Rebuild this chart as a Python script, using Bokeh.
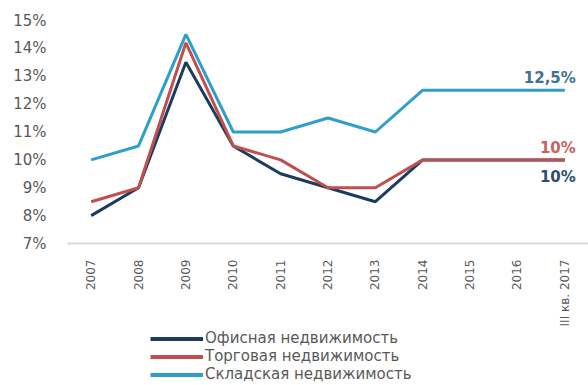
import math
from bokeh.plotting import figure
from bokeh.layouts import column
from bokeh.models import Legend, LegendItem, NumeralTickFormatter, FixedTicker, Range1d
from bokeh.core.properties import value
from bokeh.embed import file_html
from bokeh.resources import INLINE

years = ["2007", "2008", "2009", "2010", "2011", "2012", "2013", "2014", "2015", "2016", "III кв. 2017"]
office = [8.0, 9.0, 13.5, 10.5, 9.5, 9.0, 8.5, 10.0, 10.0, 10.0, 10.0]
retail = [8.5, 9.0, 14.2, 10.5, 10.0, 9.0, 9.0, 10.0, 10.0, 10.0, 10.0]
warehouse = [10.0, 10.5, 14.5, 11.0, 11.0, 11.5, 11.0, 12.5, 12.5, 12.5, 12.5]
names = ["Офисная недвижимость", "Торговая недвижимость", "Складская недвижимость"]
y_ticks = [7, 8, 9, 10, 11, 12, 13, 14, 15]
end_labels = ["12,5%", "10%", "10%"]
end_values = [12.5, 10.0, 10.0]

FONT = "DejaVu Sans"
colors = ["#1C3B60", "#C0504D", "#2F9FCA"]
label_colors = ["#3F7191", "#C8625E", "#2F4E6E"]
label_offsets = [-12, -12, 17]

p = figure(frame_width=521, frame_height=223, x_range=years, y_range=(7, 15),
           output_backend="svg", toolbar_location=None,
           min_border_left=67, min_border_right=0, min_border_top=20,
           min_border_bottom=86)
p.outline_line_color = None
p.xgrid.grid_line_color = None
p.ygrid.grid_line_color = None
p.x_range.range_padding = 0

for vals, c in zip([office, retail, warehouse], colors):
    p.line(years, vals, line_color=c, line_width=3)

for t, v, lc, off in zip(end_labels, end_values, label_colors, label_offsets):
    p.text(x=[years[-1]], y=[v], text=[t], text_color=lc, text_font=value(FONT),
           text_font_size="15px", text_font_style="bold", text_align="right",
           text_baseline="middle", x_offset=11, y_offset=off)

p.yaxis.ticker = FixedTicker(ticks=y_ticks)
p.yaxis.formatter = NumeralTickFormatter(format="0")
p.yaxis.major_label_overrides = {t: f"{t}%" for t in y_ticks}
p.yaxis.axis_line_color = None
p.yaxis.major_tick_line_color = None
p.yaxis.minor_tick_line_color = None
p.yaxis.major_label_standoff = 15
p.yaxis.major_label_text_font = FONT
p.yaxis.major_label_text_font_size = "15px"
p.yaxis.major_label_text_color = "#595959"

p.xaxis.axis_line_color = "#D9D9D9"
p.xaxis.axis_line_width = 2
p.xaxis.major_tick_line_color = None
p.xaxis.major_label_orientation = math.pi / 2
p.xaxis.major_label_standoff = 10
p.xaxis.major_label_text_font = FONT
p.xaxis.major_label_text_font_size = "12px"
p.xaxis.major_label_text_color = "#595959"

# legend panel (its frame is aligned with the chart frame, which starts at x=67)
lg = figure(frame_width=521, height=56, x_range=Range1d(0, 1), y_range=Range1d(0, 1),
            output_backend="svg", toolbar_location=None,
            min_border_left=67, min_border_right=0, min_border_top=0, min_border_bottom=0)
lg.axis.visible = False
lg.grid.grid_line_color = None
lg.outline_line_color = None
items = []
for n, c in zip(names, colors):
    r = lg.line(x=[5, 6], y=[5, 6], line_color=c, line_width=4)
    items.append(LegendItem(label=n, renderers=[r]))
legend = Legend(items=items, location=(83, 2), orientation="vertical",
                glyph_width=53, glyph_height=17, label_standoff=2, spacing=0,
                padding=0, margin=0, border_line_color=None, background_fill_alpha=0,
                label_text_font=FONT, label_text_font_size="15px",
                label_text_color="#595959", label_height=17)
lg.add_layout(legend, "center")

layout = column(p, lg, spacing=0)
open("out.html", "w").write(file_html(layout, INLINE))
